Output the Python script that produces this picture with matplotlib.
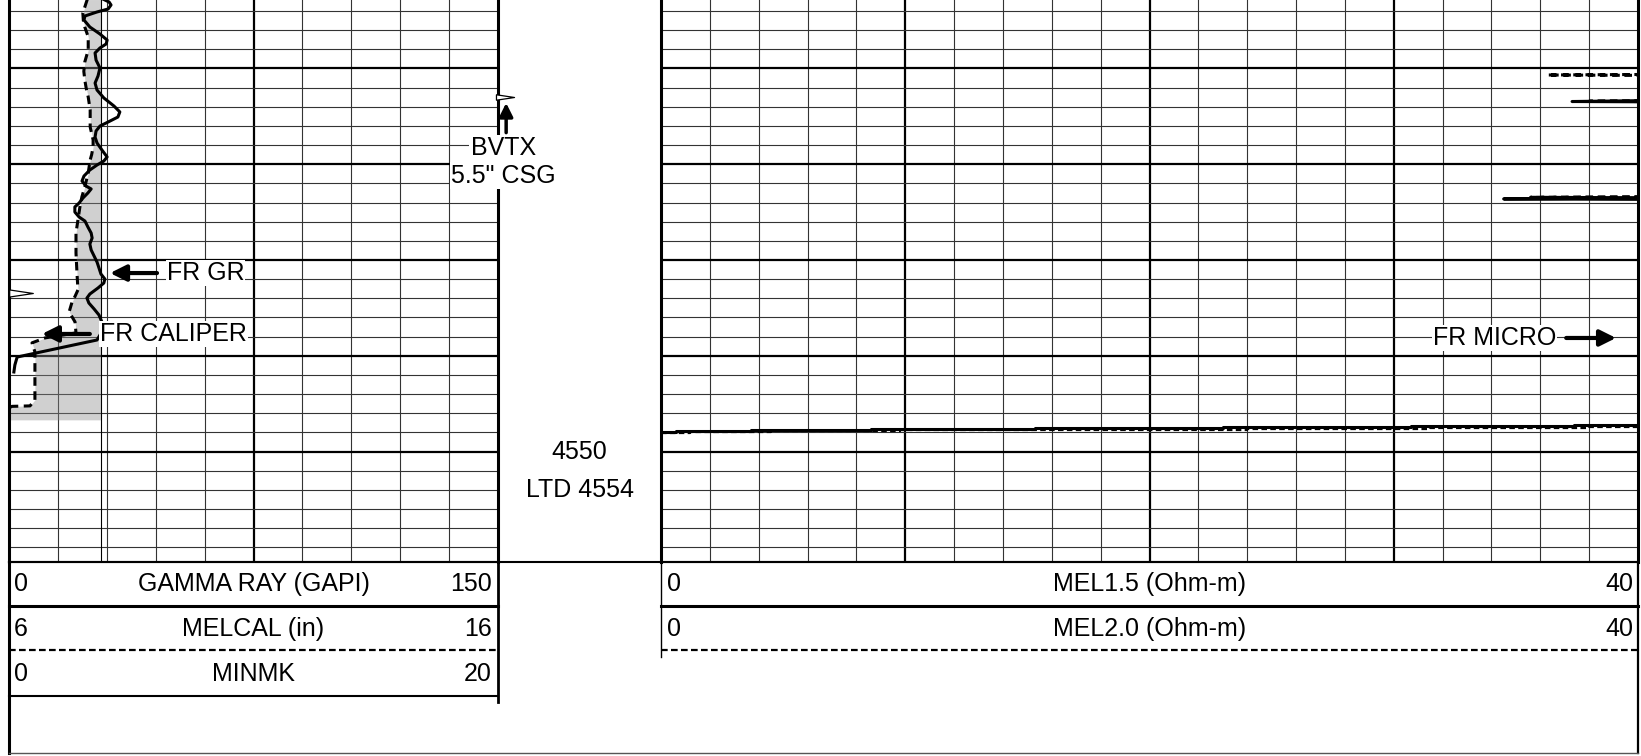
import matplotlib.pyplot as plt
from matplotlib.path import Path
import numpy as np

plt.rcParams['font.family'] = ['Liberation Sans', 'DejaVu Sans']

W, H = 1641, 756

# depth window of the log (ft)
top_depth = 4502.85
bottom_depth = 4561.5
major_depths = [4510, 4520, 4530, 4540, 4550]
minor_depths = np.arange(4504, 4561, 2)

# gamma ray (GAPI)
gr_depth = [4502.8, 4503.06, 4503.37, 4503.79, 4504.10, 4504.52, 4504.94, 4505.67,
            4506.40, 4507.03, 4507.44, 4507.86, 4508.38, 4509.12, 4509.95, 4510.79,
            4511.52, 4512.25, 4513.08, 4513.92, 4514.54, 4515.07, 4515.59, 4516.01,
            4516.53, 4517.16, 4517.78, 4518.51, 4519.24, 4519.66, 4520.08, 4520.60,
            4521.23, 4521.75, 4522.27, 4522.58, 4523.00, 4523.52, 4524.05, 4524.46,
            4524.99, 4525.51, 4525.93, 4526.55, 4527.18, 4527.70, 4528.33, 4528.95,
            4529.58, 4530.21, 4530.83, 4531.46, 4531.98, 4532.40, 4532.92, 4533.55,
            4533.97, 4534.49, 4535.11, 4535.74, 4536.47, 4537.31, 4538.35, 4540.13,
            4540.96, 4541.69]
gr = [29.1, 30.7, 31.3, 30.4, 27.0, 23.3, 23.0, 24.8,
      27.9, 30.1, 29.8, 27.9, 26.4, 26.7, 27.9, 27.3,
      26.4, 27.0, 29.1, 32.2, 34.0, 33.4, 30.4, 27.9,
      26.7, 26.4, 27.0, 28.5, 30.1, 29.1, 27.0, 24.8,
      23.0, 22.4, 23.6, 25.2, 24.2, 22.7, 21.5, 20.2,
      20.2, 21.5, 23.3, 24.2, 25.2, 25.5, 24.8, 25.2,
      26.1, 27.0, 27.6, 28.2, 29.4, 29.1, 27.3, 24.8,
      23.9, 24.5, 26.1, 27.6, 28.5, 28.8, 27.0, 2.5,
      1.8, 1.5]

# caliper (in)
cal_depth = [4502.8, 4504.21, 4505.0, 4505.67, 4506.71, 4508.07, 4509.32, 4510.3,
             4511.2, 4512.1, 4512.98, 4514.33, 4516.11, 4517.46, 4518.19, 4519.0,
             4519.55, 4520.91, 4522.37, 4523.41, 4524.46, 4525.81, 4527.17, 4529.26,
             4531.35, 4533.12, 4533.8, 4534.37, 4535.42, 4536.46, 4537.61, 4538.13,
             4538.65, 4539.59, 4544.6, 4545.23, 4545.28, 4545.44, 4546.69]
cal = [7.6, 7.51, 7.52, 7.55, 7.62, 7.62, 7.55, 7.53,
       7.55, 7.58, 7.62, 7.66, 7.66, 7.72, 7.72, 7.69,
       7.66, 7.62, 7.55, 7.49, 7.45, 7.41, 7.37, 7.37,
       7.39, 7.41, 7.35, 7.29, 7.23, 7.35, 7.37, 6.74,
       6.47, 6.53, 6.53, 6.43, 6.06, 6.0, 6.0]
bit_size = 7.875

# micro resistivity (Ohm-m)
mel15_base_depth = [4547.95, 4547.85, 4547.75, 4547.65, 4547.55, 4547.45, 4547.35, 4547.25, 4547.15]
mel15_base = [0.0, 0.6, 3.7, 8.6, 15.3, 23.0, 30.7, 37.4, 42.0]
mel20_base_depth = [4548.1, 4548.0, 4547.9, 4547.8, 4547.7, 4547.6, 4547.5, 4547.4, 4547.3]
mel20_base = [0.0, 1.2, 4.5, 9.8, 16.5, 24.0, 31.5, 38.0, 42.0]
mel15_spike_depth = [4513.30, 4513.45, 4513.50, np.nan, 4523.50, 4523.62, 4523.68]
mel15_spike = [42, 37.3, 42, np.nan, 42, 34.5, 42]
mel20_spike_depth = [4510.60, 4510.68, 4510.74, np.nan, 4513.32, 4513.42, 4513.48,
                     np.nan, 4523.35, 4523.45, 4523.52]
mel20_spike = [42, 36.3, 42, np.nan, 42, 38.0, 42, np.nan, 42, 35.6, 42]


def rect(x0, y0, x1, y1):
    return [x0 / W, 1 - y1 / H, (x1 - x0) / W, (y1 - y0) / H]


def style_track(ax, xlim, major_x, minor_x):
    ax.set_xlim(*xlim)
    ax.set_ylim(bottom_depth, top_depth)
    ax.set_xticks(major_x)
    ax.set_xticks(minor_x, minor=True)
    ax.set_yticks(major_depths)
    ax.set_yticks(minor_depths, minor=True)
    ax.grid(which='major', color='k', lw=1.6)
    ax.grid(which='minor', color='#333333', lw=0.8)
    ax.tick_params(which='both', length=0, labelbottom=False, labelleft=False)
    for s in ax.spines.values():
        s.set_linewidth(2.2)
    ax.spines['top'].set_visible(False)
    ax.spines['bottom'].set_linewidth(1.5)
    ax.set_axisbelow(True)


arrow_kw = dict(arrowstyle='-|>', color='k', lw=3, mutation_scale=24,
                shrinkA=0, shrinkB=0)
box_kw = dict(fc='white', ec='none', pad=0.5)

fig = plt.figure(figsize=(W / 100, H / 100), dpi=100)

# track 1: caliper + gamma ray
ax_cal = fig.add_axes(rect(9, 0, 498, 561.7))
style_track(ax_cal, (6, 16), [11], np.arange(7, 16, 1))
ax_cal.fill_betweenx(cal_depth, cal, bit_size, where=np.array(cal) < bit_size,
                     interpolate=True, color='#8a8a8a', alpha=0.4, lw=0)
ax_cal.axvline(bit_size, color='k', lw=0.8)
ax_cal.plot(cal, cal_depth, color='k', lw=2.2, dashes=(2.8, 1.8))

ax_gr = ax_cal.twiny()
ax_gr.set_xlim(0, 150)
ax_gr.tick_params(which='both', length=0, labeltop=False)
for s in ax_gr.spines.values():
    s.set_visible(False)
ax_gr.plot(gr, gr_depth, color='k', lw=2.2, solid_joinstyle='round')

wedge = Path([(-1, 0.3), (1, 0), (-1, -0.3), (-1, 0.3)],
             [Path.MOVETO, Path.LINETO, Path.LINETO, Path.CLOSEPOLY])
ax_gr.plot([3.7], [4533.45], marker=wedge, ms=17, mfc='white', mec='k', mew=0.9)

ax_gr.annotate('', xy=(31.0, 4531.36), xytext=(45.4, 4531.36), arrowprops=arrow_kw)
ax_gr.text(48.5, 4531.36, 'FR GR', ha='left', va='center', fontsize=18,
           bbox=box_kw, zorder=5)
ax_gr.annotate('', xy=(10.1, 4537.72), xytext=(24.8, 4537.72), arrowprops=arrow_kw)
ax_gr.text(27.9, 4537.72, 'FR CALIPER', ha='left', va='center', fontsize=18,
           bbox=box_kw, zorder=5)

# track 3: micro log
ax_mel = fig.add_axes(rect(661, 0, 1638, 561.7))
style_track(ax_mel, (0, 40), [10, 20, 30], np.arange(2, 40, 2))
ax_mel.plot(mel15_base, mel15_base_depth, color='k', lw=2.2, drawstyle='steps-post')
ax_mel.plot(mel20_base, mel20_base_depth, color='k', lw=1.6, dashes=(2.5, 1.5),
            drawstyle='steps-post')
ax_mel.plot(mel15_spike, mel15_spike_depth, color='k', lw=2.2)
ax_mel.plot(mel20_spike, mel20_spike_depth, color='k', lw=2.2, dashes=(2.5, 1.5))
ax_mel.text(36.65, 4538.14, 'FR MICRO', ha='right', va='center', fontsize=18,
            bbox=box_kw, zorder=5)
ax_mel.annotate('', xy=(39.1, 4538.14), xytext=(37.06, 4538.14), arrowprops=arrow_kw)

# depth track
ax_d = fig.add_axes(rect(498, 0, 661, 561.7))
ax_d.set_xlim(0, 1)
ax_d.set_ylim(bottom_depth, top_depth)
ax_d.axis('off')
ax_d.text(0.497, 4550, '4550', ha='center', va='center', fontsize=18)
ax_d.text(0.505, 4554, 'LTD 4554', ha='center', va='center', fontsize=18)
ax_d.text(0.034, 4518.35, 'BVTX', ha='center', va='center', fontsize=18,
          bbox=dict(fc='white', ec='none', pad=1))
ax_d.text(0.034, 4521.2, '5.5" CSG', ha='center', va='center', fontsize=18,
          bbox=dict(fc='white', ec='none', pad=1))
ax_d.annotate('', xy=(0.05, 4513.6), xytext=(0.05, 4516.7), annotation_clip=False,
              arrowprops=dict(arrowstyle='-|>', color='k', lw=2.5, mutation_scale=20,
                              shrinkA=0, shrinkB=0))
ax_d.plot([0.045], [4512.95], marker=wedge, ms=13, mfc='white', mec='k', mew=0.9,
          clip_on=False)

# header panel
ov = fig.add_axes([0, 0, 1, 1])
ov.set_xlim(0, W)
ov.set_ylim(H, 0)
ov.axis('off')
ov.plot([9, 1638], [561.7, 561.7], color='k', lw=1.5)
ov.plot([9, 9], [561.7, 753], color='k', lw=2.2)
ov.plot([498, 498], [561.7, 702], color='k', lw=2.0)
ov.plot([661, 661], [561.7, 657], color='k', lw=1.0)
ov.plot([1638, 1638], [561.7, 753], color='k', lw=1.6)
ov.plot([9, 1638], [753, 753], color='#555555', lw=1.0)
for x0, x1 in [(9, 498), (661, 1638)]:
    ov.plot([x0, x1], [605.5, 605.5], color='k', lw=2.2)
    ov.plot([x0, x1], [650, 650], color='k', lw=1.6, dashes=(3, 1.5))
ov.plot([9, 498], [696, 696], color='k', lw=1.5)

hdr_left = [('0', 'GAMMA RAY (GAPI)', '150', 584),
            ('6', 'MELCAL (in)', '16', 629),
            ('0', 'MINMK', '20', 674)]
hdr_right = [('0', 'MEL1.5 (Ohm-m)', '40', 584),
             ('0', 'MEL2.0 (Ohm-m)', '40', 629)]
for lo, name, hi, y in hdr_left:
    ov.text(14, y, lo, ha='left', va='center', fontsize=18)
    ov.text(253.5, y, name, ha='center', va='center', fontsize=18)
    ov.text(492, y, hi, ha='right', va='center', fontsize=18)
for lo, name, hi, y in hdr_right:
    ov.text(667, y, lo, ha='left', va='center', fontsize=18)
    ov.text(1149.5, y, name, ha='center', va='center', fontsize=18)
    ov.text(1633, y, hi, ha='right', va='center', fontsize=18)

fig.savefig('out.png', dpi=100)
